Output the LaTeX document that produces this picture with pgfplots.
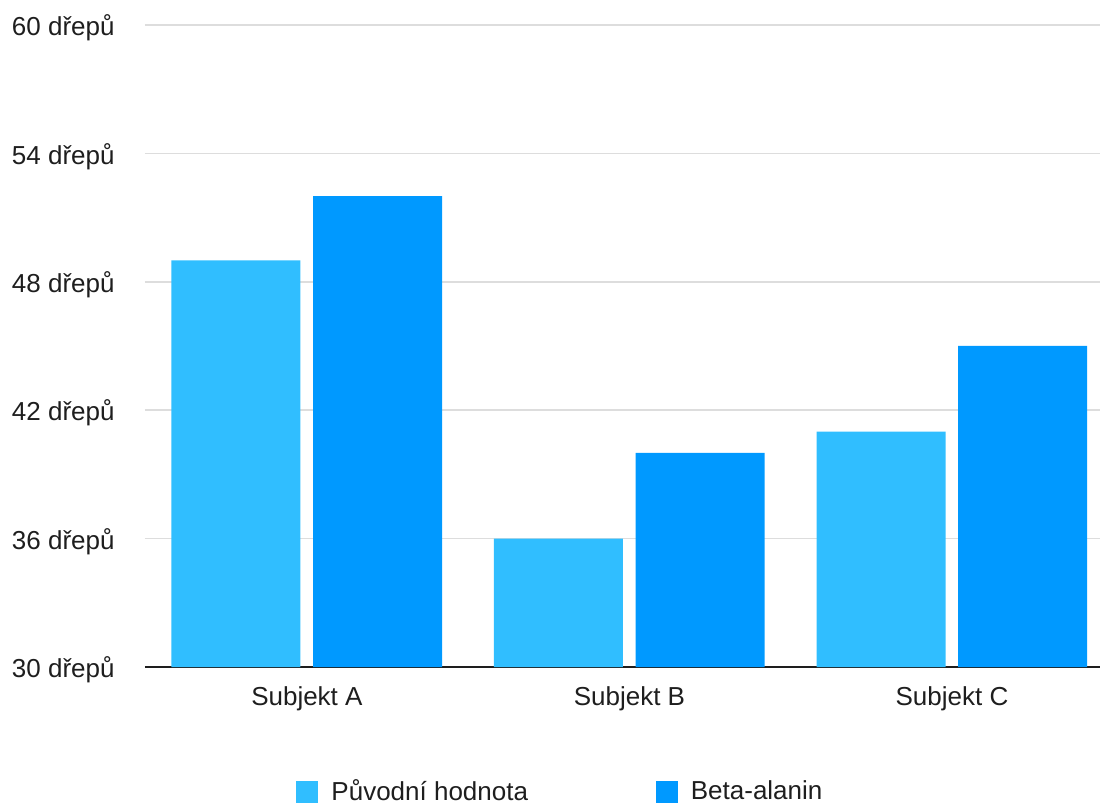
\documentclass[border=0pt]{standalone}
\usepackage{pgfplots}
\pgfplotsset{compat=1.18}
\usepackage{fontspec}
\setmainfont{Liberation Sans}
\definecolor{lightb}{HTML}{30BEFF}
\definecolor{darkb}{HTML}{0099FF}
\definecolor{gridc}{HTML}{DDDDDD}
\definecolor{txt}{HTML}{1E1E1E}
\begin{document}
\begin{tikzpicture}
\begin{axis}[
  name=ax,
  scale only axis,
  width=477.5pt, height=321pt,
  xmin=-0.502, xmax=2.459,
  ymin=30, ymax=60,
  ybar=0pt,
  bar width=0.4,
  xtick={0,1,2},
  xticklabels={Subjekt A,Subjekt B,Subjekt C},
  ytick={30,36,42,48,54,60},
  yticklabels={30 dřepů,36 dřepů,42 dřepů,48 dřepů,54 dřepů,60 dřepů},
  major tick length=0pt,
  ymajorgrids,
  grid style={gridc, line width=0.75pt},
  axis lines*=left,
  x axis line style={txt, line width=1pt, -},
  y axis line style={draw=none},
  tick label style={font=\fontsize{13}{16}\selectfont, text=txt},
  yticklabel style={anchor=east, inner sep=0pt, xshift=-15pt, yshift=-1.5pt},
  xticklabel style={anchor=north, inner sep=0pt, yshift=-9.5pt},
  legend style={draw=none, fill=none, font=\fontsize{13}{16}\selectfont, text=txt,
    at={(axis description cs:0.435,-0.1947)}, anchor=center,
    /tikz/every even column/.append style={column sep=62.9pt},
    nodes={inner sep=1pt}},
  legend columns=2,
  legend cell align=left,
  legend image code/.code={\fill[#1,draw=none] (0pt,-5.5pt) rectangle (11pt,5.5pt); \path (16.5pt,0pt);},
]
\addplot[fill=lightb, draw=none, bar shift=-0.22] coordinates {(0,49) (1,36) (2,41)};
\addplot[fill=darkb, draw=none, bar shift=0.219] coordinates {(0,52) (1,40) (2,45)};
\legend{Původní hodnota, Beta-alanin}
\end{axis}
\pgfresetboundingbox
\path[use as bounding box] ([shift={(-72.5pt,-69.5pt)}]ax.south west) rectangle ([shift={(0pt,12.5pt)}]ax.north east);
\end{tikzpicture}
\end{document}
